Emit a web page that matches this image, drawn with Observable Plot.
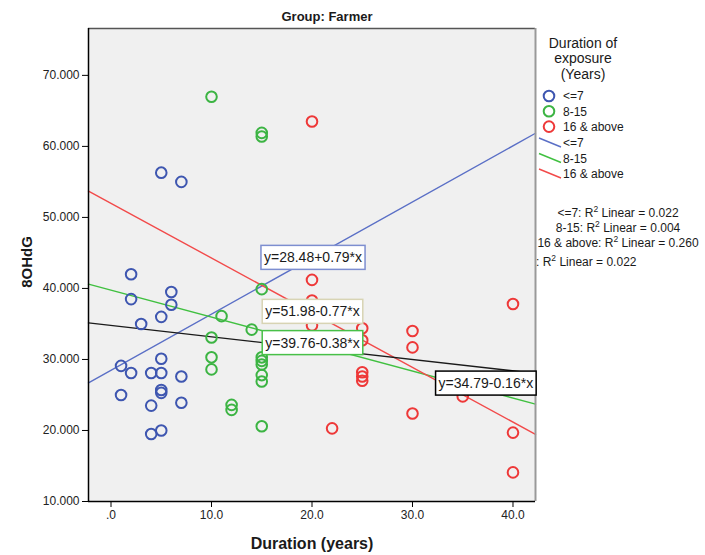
<!DOCTYPE html>
<html><head><meta charset="utf-8">
<script src="https://cdn.jsdelivr.net/npm/d3@7"></script>
<script src="https://cdn.jsdelivr.net/npm/@observablehq/plot@0.6"></script>
<style>
html,body{margin:0;padding:0;background:#fff;}
#chart{position:relative;width:705px;height:555px;}
</style></head><body><div id="chart"></div>
<script>
// ---- data ----
const groups = ["<=7", "8-15", "16 & above"];
const lowX  = [5,7,2,2,6,6,5,3,1,2,5,4,5,7,1,5,5,4,7,4,5];
const lowY  = [56.3,55.0,42.0,38.5,39.5,37.7,36.0,35.0,29.1,28.1,30.1,28.1,28.1,27.6,25.0,25.7,25.3,23.5,23.9,19.5,20.0];
const midX  = [10,15,15,15,11,14,10,10,10,15,15,15,15,15,12,12,15];
const midY  = [67.0,61.9,61.4,39.9,36.1,34.2,33.1,30.3,28.6,30.3,29.8,29.3,27.8,26.9,23.6,22.9,20.6];
const highX = [20,20,20,20,22,25,25,25,25,25,30,30,30,35,40,40,40];
const highY = [63.5,41.2,38.3,34.8,20.3,34.4,32.7,28.2,27.6,27.0,34.0,31.7,22.4,24.8,37.8,19.7,14.1];

const fitNames      = ["<=7", "8-15", "16 & above", "Total"];
const fitIntercepts = [28.48, 39.76, 51.98, 34.79];
const fitSlopes     = [0.79, -0.38, -0.77, -0.16];
const r2Labels      = ["<=7", "8-15", "16 & above", ""];
const r2Values      = ["0.022", "0.004", "0.260", "0.022"];
const eqTexts       = ["y=28.48+0.79*x", "y=51.98-0.77*x", "y=39.76-0.38*x", "y=34.79-0.16*x"];

const xTicks = [0, 10, 20, 30, 40];
const yTicks = [10, 20, 30, 40, 50, 60, 70];

// ---- styling / layout ----
const dotColors  = ["#3e56b0", "#3cb443", "#ee3838"];
const lineColors = ["#5a6fc6", "#40c040", "#f24a4a", "#1a1a1a"];
const boxColors  = ["#7d8ed0", "#d8d4b4", "#48c048", "#000000"];
const eqAnchorX  = [20.1, 20.05, 20.05, 37.3];
const eqAnchorY  = [44.3, 36.7, 32.3, 26.6];
const xDomain = [-2.24, 42.24];
const yDomain = [10, 76.6];
const FONT = "Arial, 'Liberation Sans', sans-serif";

const series = [
  {name: groups[0], xs: lowX, ys: lowY},
  {name: groups[1], xs: midX, ys: midY},
  {name: groups[2], xs: highX, ys: highY}
].map((s, i) => ({...s, color: dotColors[i], pts: s.xs.map((x, j) => ({x, y: s.ys[j]}))}));

const fits = fitNames.map((name, i) => ({
  name, color: lineColors[i],
  pts: xDomain.map(x => ({x, y: fitIntercepts[i] + fitSlopes[i] * x}))
}));

const eqs = eqTexts.map((text, i) => ({text, x: eqAnchorX[i], y: eqAnchorY[i], box: boxColors[i]}));

const fmtX = d => d === 0 ? ".0" : d.toFixed(1);
const fmtY = d3.format(".3f");

const chart = Plot.plot({
  width: 705, height: 555,
  marginLeft: 88, marginRight: 170, marginTop: 28, marginBottom: 54,
  style: {fontFamily: FONT, fontSize: "12px", background: "#fff", overflow: "visible"},
  x: {domain: xDomain, label: null},
  y: {domain: yDomain, label: null},
  marks: [
    Plot.frame({fill: "#f0f0f0", stroke: null}),
    ...fits.map(f => Plot.line(f.pts, {x: "x", y: "y", stroke: f.color, strokeWidth: 1.4})),
    ...series.map(s => Plot.dot(s.pts, {x: "x", y: "y", r: 5.3, stroke: s.color, strokeWidth: 2, fill: "none"})),
    Plot.ruleY([yDomain[1]], {stroke: "#555", strokeWidth: 1.5}),
    Plot.ruleX([xDomain[1]], {stroke: "#999", strokeWidth: 2}),
    Plot.ruleY([yDomain[0]], {stroke: "#000", strokeWidth: 1.5}),
    Plot.ruleX([xDomain[0]], {stroke: "#000", strokeWidth: 1.5}),
    Plot.axisX({ticks: xTicks, tickFormat: fmtX, tickSize: 6, tickPadding: 3, fontSize: 12, fill: "#222", stroke: "#000", label: null}),
    Plot.axisY({ticks: yTicks, tickFormat: fmtY, tickSize: 6, tickPadding: 3, fontSize: 12, fill: "#222", stroke: "#000", label: null}),
    Plot.text(eqs, {x: "x", y: "y", text: "text", fontSize: 14, fill: "#1a1a1a", className: "eqlab"})
  ]
});

document.getElementById("chart").appendChild(chart);
const svg = d3.select(chart);

// boxes behind equation labels (same transform as each text)
const eqNodes = svg.selectAll(".eqlab text").nodes();
eqNodes.forEach((node, i) => {
  const bb = node.getBBox();
  const tr = node.getAttribute("transform");
  const r = d3.select(node.parentNode).insert("rect", () => node)
    .attr("x", bb.x - 3).attr("y", bb.y - 4)
    .attr("width", bb.width + 6).attr("height", bb.height + 8)
    .attr("fill", "#fff").attr("stroke", eqs[i].box).attr("stroke-width", 1.5);
  if (tr) r.attr("transform", tr);
});

// titles
const ann = svg.append("g").attr("font-family", FONT).attr("fill", "#1a1a1a");
ann.append("text").attr("x", 327).attr("y", 16).attr("dy", "0.35em").attr("text-anchor", "middle")
  .attr("font-weight", "bold").attr("font-size", 13).text("Group: Farmer");
ann.append("text").attr("x", 312).attr("y", 543).attr("dy", "0.35em").attr("text-anchor", "middle")
  .attr("font-weight", "bold").attr("font-size", 16).text("Duration (years)");
ann.append("text").attr("transform", "translate(27,262) rotate(-90)").attr("dy", "0.35em").attr("text-anchor", "middle")
  .attr("font-weight", "bold").attr("font-size", 15).text("8OHdG");

// legend
const lg = svg.append("g").attr("font-family", FONT).attr("font-size", 12).attr("fill", "#1a1a1a").attr("text-anchor", "start");
["Duration of", "exposure", "(Years)"].forEach((t, i) =>
  lg.append("text").attr("x", 583).attr("y", 43 + i * 15.5).attr("dy", "0.35em")
    .attr("text-anchor", "middle").attr("font-size", 14).text(t));
groups.forEach((g, i) => {
  const cy = 96 + i * 15.3;
  lg.append("circle").attr("cx", 549).attr("cy", cy).attr("r", 5.3)
    .attr("fill", "none").attr("stroke", dotColors[i]).attr("stroke-width", 2);
  lg.append("text").attr("x", 563).attr("y", cy).attr("dy", "0.35em").attr("text-anchor", "start").text(g);
});
groups.forEach((g, i) => {
  const cy = 143 + i * 15.5;
  lg.append("line").attr("x1", 539).attr("y1", cy - 5).attr("x2", 561).attr("y2", cy + 4)
    .attr("stroke", lineColors[i]).attr("stroke-width", 1.4);
  lg.append("text").attr("x", 563).attr("y", cy).attr("dy", "0.35em").attr("text-anchor", "start").text(g);
});
r2Labels.forEach((lab, i) => {
  const last = i === r2Labels.length - 1;
  const t = lg.append("text").attr("x", last ? 536 : 618).attr("y", i < 3 ? 213 + i * 15 : 262)
    .attr("dy", "0.35em").attr("text-anchor", last ? "start" : "middle");
  t.append("tspan").text(lab + ": R");
  t.append("tspan").attr("dy", -5).attr("font-size", 8.5).text("2");
  t.append("tspan").attr("dy", 5).text(" Linear = " + r2Values[i]);
});
</script></body></html>
